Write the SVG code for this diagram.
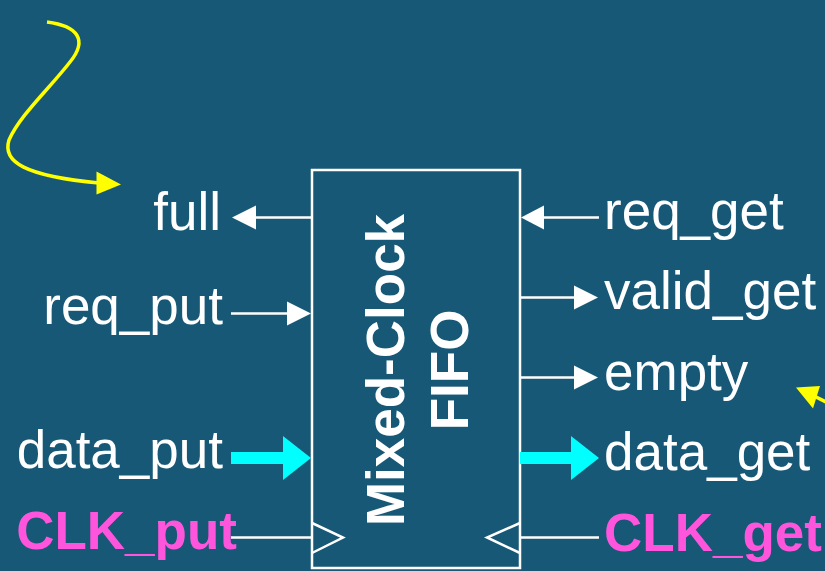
<svg xmlns="http://www.w3.org/2000/svg" width="825" height="571" viewBox="0 0 825 571">
  <style>
    .lbl { font-family: "Liberation Sans", Arial, sans-serif; font-size: 53px; fill: #ffffff; }
    .clk { font-family: "Liberation Sans", Arial, sans-serif; font-size: 53px; font-weight: bold; fill: #ff55dd; }
    .title { font-family: "Liberation Sans", Arial, sans-serif; font-size: 53px; font-weight: bold; fill: #ffffff; }
    .wire { stroke: #ffffff; stroke-width: 2.5; fill: none; }
    .head { fill: #ffffff; }
    .bus { stroke: #00ffff; stroke-width: 12; fill: none; }
    .bushead { fill: #00ffff; }
    .note { stroke: #ffff00; stroke-width: 3.5; fill: none; }
    .notehead { fill: #ffff00; }
  </style>
  <rect width="825" height="571" fill="#165876"/>

  <!-- FIFO block -->
  <g id="fifo">
    <rect x="312" y="170" width="208" height="398" fill="none" stroke="#ffffff" stroke-width="2.5"/>
    <text class="title" text-anchor="middle" transform="translate(404,370) rotate(-90)">Mixed-Clock</text>
    <text class="title" text-anchor="middle" transform="translate(468,370) rotate(-90)">FIFO</text>
    <!-- clock input notches -->
    <polyline class="wire" points="312,523 343,537.5 312,553"/>
    <polyline class="wire" points="520,523 487,537.5 520,553"/>
  </g>

  <!-- signal labels -->
  <g id="full"><text class="lbl" x="221" y="230" text-anchor="end">full</text></g>
  <g id="req_put"><text class="lbl" x="223" y="324" text-anchor="end">req_put</text></g>
  <g id="data_put"><text class="lbl" x="223" y="468" text-anchor="end">data_put</text></g>
  <g id="CLK_put"><text class="clk" x="237" y="549" text-anchor="end">CLK_put</text></g>
  <g id="req_get"><text class="lbl" x="604" y="229">req_get</text></g>
  <g id="valid_get"><text class="lbl" x="604" y="309">valid_get</text></g>
  <g id="empty"><text class="lbl" x="604" y="390">empty</text></g>
  <g id="data_get"><text class="lbl" x="604" y="470">data_get</text></g>
  <g id="CLK_get"><text class="clk" x="604" y="551">CLK_get</text></g>

  <!-- connectors -->
  <g id="connectors">
    <!-- full (out, left) -->
    <line class="wire" x1="312" y1="217.5" x2="250" y2="217.5"/>
    <polygon class="head" points="232,217.5 256,205.5 256,229.5"/>
    <!-- req_put (in) -->
    <line class="wire" x1="231" y1="313.5" x2="292" y2="313.5"/>
    <polygon class="head" points="311,313.5 287,301.5 287,325.5"/>
    <!-- data_put bus -->
    <line class="bus" x1="231" y1="458" x2="285" y2="458"/>
    <polygon class="bushead" points="311,458 283,436 283,480"/>
    <!-- CLK_put -->
    <line class="wire" x1="231" y1="537.5" x2="312" y2="537.5"/>
    <!-- req_get (in, right) -->
    <line class="wire" x1="599" y1="217.5" x2="538" y2="217.5"/>
    <polygon class="head" points="521,217.5 544,205.5 544,229.5"/>
    <!-- valid_get (out) -->
    <line class="wire" x1="520" y1="297.5" x2="580" y2="297.5"/>
    <polygon class="head" points="598,297.5 574,285.5 574,309.5"/>
    <!-- empty (out) -->
    <line class="wire" x1="520" y1="377.5" x2="580" y2="377.5"/>
    <polygon class="head" points="598,377.5 574,365.5 574,389.5"/>
    <!-- data_get bus -->
    <line class="bus" x1="520" y1="458" x2="574" y2="458"/>
    <polygon class="bushead" points="599,458 571,436 571,480"/>
    <!-- CLK_get -->
    <line class="wire" x1="520" y1="537.5" x2="599" y2="537.5"/>
  </g>

  <!-- yellow pointer arrows -->
  <g id="pointers">
    <path class="note" d="M47,22 C78,26 88,40 70,62 C50,88 20,115 9,140 C2,162 25,176 99,183"/>
    <polygon class="notehead" points="121,184.5 96.5,171.5 96.5,194.5"/>
    <line class="note" x1="814" y1="396" x2="830" y2="404"/>
    <polygon class="notehead" points="796,387.5 820,386 813,408.5"/>
  </g>
</svg>
